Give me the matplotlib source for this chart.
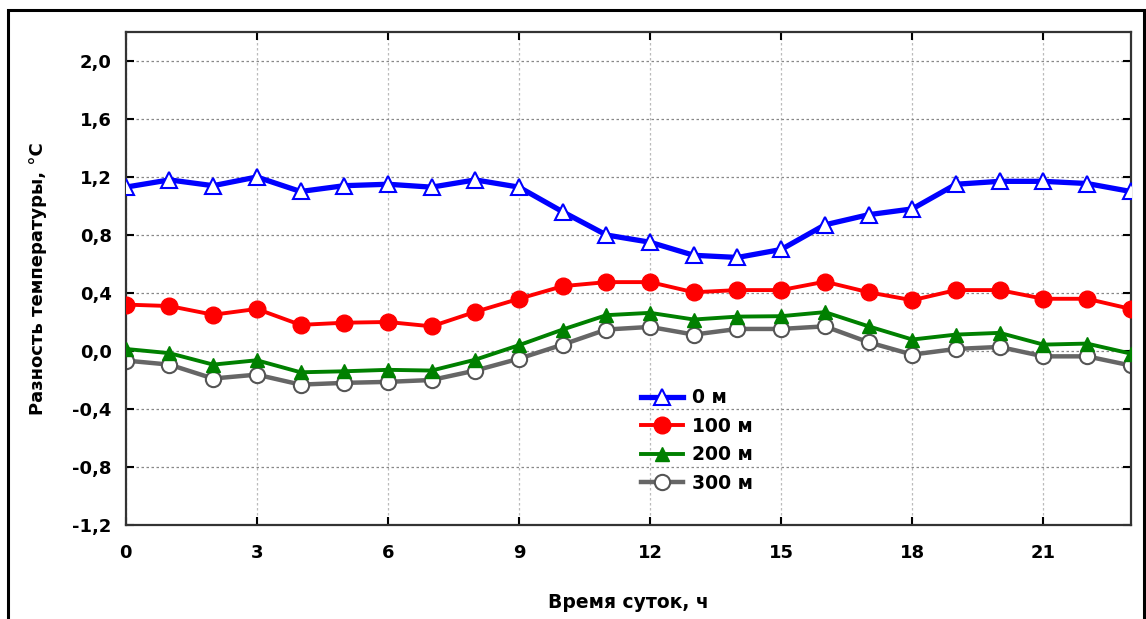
import matplotlib
matplotlib.use("Agg")
import matplotlib.pyplot as plt
from matplotlib.patches import Rectangle
from matplotlib.ticker import FuncFormatter, MultipleLocator

plt.rcParams["font.family"] = ["DejaVu Sans"]
plt.rcParams["font.weight"] = "bold"

hours = list(range(24))
t_0m = [1.13, 1.18, 1.14, 1.20, 1.10, 1.14, 1.15, 1.13, 1.18, 1.13, 0.96, 0.80,
        0.75, 0.66, 0.645, 0.70, 0.87, 0.94, 0.98, 1.15, 1.17, 1.17, 1.155, 1.10]
t_100m = [0.32, 0.31, 0.25, 0.29, 0.18, 0.195, 0.20, 0.17, 0.27, 0.36, 0.447, 0.475,
          0.475, 0.405, 0.42, 0.42, 0.478, 0.405, 0.35, 0.42, 0.42, 0.36, 0.36, 0.29]
t_200m = [0.014, -0.015, -0.094, -0.064, -0.147, -0.14, -0.13, -0.135, -0.06, 0.04, 0.148, 0.247,
          0.263, 0.217, 0.237, 0.24, 0.268, 0.17, 0.079, 0.113, 0.125, 0.044, 0.051, -0.018]
t_300m = [-0.066, -0.094, -0.19, -0.163, -0.232, -0.22, -0.213, -0.20, -0.135, -0.053, 0.044, 0.148,
          0.166, 0.113, 0.152, 0.152, 0.17, 0.06, -0.025, 0.014, 0.028, -0.037, -0.037, -0.10]
labels = ["0 м", "100 м", "200 м", "300 м"]

fig = plt.figure(figsize=(11.46, 6.19), dpi=100)
ax = fig.add_axes([0.1097, 0.1519, 0.8770, 0.7964])

# outer frame around the whole chart (bottom edge falls off the picture)
fig.patches.append(Rectangle((8 / 1146, -0.05), 1136 / 1146, 1.05 - 10 / 619,
                             transform=fig.transFigure, fill=False,
                             edgecolor="black", linewidth=2.2))

ax.plot(hours, t_0m, color="blue", lw=3.8, marker="^", ms=11,
        mfc="white", mec="blue", mew=1.5, label=labels[0], zorder=5)
ax.plot(hours, t_100m, color="red", lw=2.8, marker="o", ms=12,
        mfc="red", mec="red", label=labels[1], zorder=4)
ax.plot(hours, t_200m, color="green", lw=2.8, marker="^", ms=10,
        mfc="green", mec="green", label=labels[2], zorder=3)
ax.plot(hours, t_300m, color="#666666", lw=3.2, marker="o", ms=11,
        mfc="white", mec="#555555", mew=1.5, label=labels[3], zorder=2)

ax.set_xlim(0, 23)
ax.set_ylim(-1.2, 2.2)
ax.xaxis.set_major_locator(MultipleLocator(3))
ax.set_yticks([-1.2, -0.8, -0.4, 0.0, 0.4, 0.8, 1.2, 1.6, 2.0])
ax.yaxis.set_major_formatter(FuncFormatter(lambda v, p: f"{v:.1f}".replace(".", ",")))
ax.tick_params(direction="in", length=6, width=1.5, top=True, right=True,
               labelsize=13)
ax.tick_params(axis="x", pad=14)
ax.tick_params(axis="y", pad=10)
for lab in ax.get_xticklabels() + ax.get_yticklabels():
    lab.set_fontweight("bold")

ax.yaxis.grid(True, linestyle=(0, (2, 2)), color="#888888", lw=0.9)
ax.xaxis.grid(True, linestyle=(0, (2, 2)), color="#bbbbbb", lw=0.9)
for s in ax.spines.values():
    s.set_linewidth(1.6)
    s.set_color("#333333")

ax.set_xlabel("Время суток, ч", fontsize=13.5, fontweight="bold", labelpad=22)
ax.set_ylabel("Разность температуры, °С", fontsize=13, fontweight="bold", labelpad=18)

ax.legend(loc="upper left", bbox_to_anchor=(0.513, 0.277), frameon=False,
          handlelength=2.2, handletextpad=0.5, labelspacing=0.5,
          borderpad=0, borderaxespad=0, prop={"weight": "bold", "size": 13.5})

fig.savefig("out.png", dpi=100)
